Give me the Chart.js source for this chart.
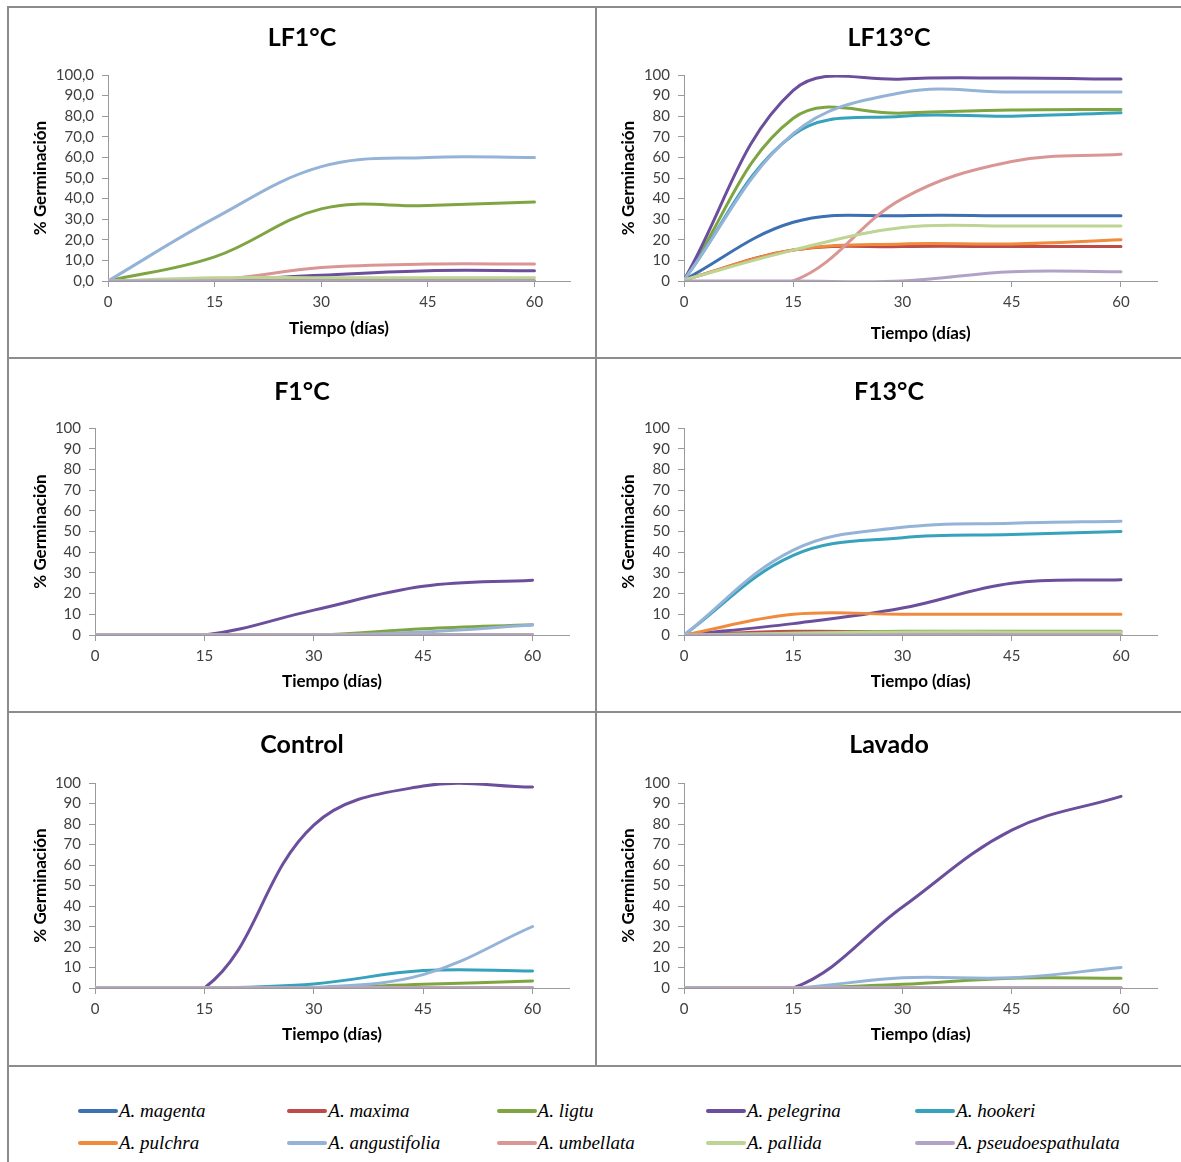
<!DOCTYPE html>
<html><head><meta charset="utf-8">
<script src="https://cdn.jsdelivr.net/npm/chart.js@4.4.1/dist/chart.umd.min.js"></script>
<style>
html,body{margin:0;padding:0;background:#fff;}
body{width:1181px;height:1162px;position:relative;overflow:hidden;}
.ln{position:absolute;background:#8c8c8c;}
canvas{position:absolute;}
.leg{position:absolute;height:24px;font-family:"Liberation Serif","Times New Roman",serif;font-style:italic;font-size:19px;color:#000;white-space:nowrap;display:flex;align-items:center;}
.leg .sw{display:inline-block;width:40px;height:4px;border-radius:2px;margin-right:1px;}
</style></head><body>
<div class="ln" style="left:7px;top:6px;width:2px;height:1156px"></div>
<div class="ln" style="left:595px;top:6px;width:2px;height:1061px"></div>
<div class="ln" style="left:7px;top:6px;width:1174px;height:2px"></div>
<div class="ln" style="left:7px;top:357px;width:1174px;height:2px"></div>
<div class="ln" style="left:7px;top:711px;width:1174px;height:2px"></div>
<div class="ln" style="left:7px;top:1065px;width:1174px;height:2px"></div>
<canvas id="c1" width="586" height="349" style="left:9px;top:8px"></canvas>
<canvas id="c2" width="584" height="349" style="left:597px;top:8px"></canvas>
<canvas id="c3" width="586" height="352" style="left:9px;top:359px"></canvas>
<canvas id="c4" width="584" height="352" style="left:597px;top:359px"></canvas>
<canvas id="c5" width="586" height="352" style="left:9px;top:713px"></canvas>
<canvas id="c6" width="584" height="352" style="left:597px;top:713px"></canvas>
<div id="legend"></div>
<script>
// ---- data ----
const days = [0, 15, 30, 45, 60];
const species = ['A. magenta','A. maxima','A. ligtu','A. pelegrina','A. hookeri','A. pulchra','A. angustifolia','A. umbellata','A. pallida','A. pseudoespathulata'];
const colors = ['#3d6fb3','#be4b48','#7fa543','#6b4f9c','#36a2bc','#f08a3c','#95b3d7','#d99694','#bcd494','#b3a2c7'];

// rows follow species order
const LF1 = [
  [0,0,0,0,0],
  [0,0,0,0,0],
  [0,11.7,35,36.6,38.3],
  [0,0.5,2.8,5,5],
  [0,0,0,0,0],
  [0,0,0,0,0],
  [0,30.5,55.5,60,60],
  [0,0.5,6.5,8.2,8.2],
  [0,1.6,1.6,1.6,1.6],
  [0,0,0,0,0]
];
const LF13 = [
  [0.5,28.5,31.7,31.7,31.7],
  [0.5,15,16.7,16.7,16.7],
  [0.5,79,81.5,83,83.3],
  [0.5,92.5,98,98.5,98],
  [0.5,71,80,80,81.7],
  [0.5,15,18,18,20],
  [0.5,71.5,91.5,91.7,91.7],
  [0,0,40,58,61.5],
  [0.5,15,26,26.7,26.7],
  [0,0,0,4.5,4.5]
];
const F1 = [
  [0,0,0,0,0],
  [0,0,0,0,0],
  [0,0,0,3,5],
  [0,0,12,23.5,26.5],
  [0,0,0,0,0],
  [0,0,0,0,0],
  [0,0,0,1.5,4.8],
  [0,0,0,0,0],
  [0,0,0,0,0],
  [0,0,0,0,0]
];
const F13 = [
  [0,0,0,0,0],
  [0,1.8,1.5,1.5,1.5],
  [0,1,1.8,1.8,1.8],
  [0,5.5,13,25,26.7],
  [0,38.5,47,48.5,50],
  [0,10,10,10,10],
  [0,41,52,54,55],
  [0,0,0,0,0],
  [0,0.8,1.5,1.5,1.5],
  [0,0,0,0,0]
];
const Control = [
  [0,0,0,0,0],
  [0,0,0,0,0],
  [0,0,0,1.8,3.4],
  [0,0,79.5,98.5,98],
  [0,0,2,8.5,8.3],
  [0,0,0,0,0],
  [0,0,0.3,6.5,30],
  [0,0,0,0,0],
  [0,0,0,0,0],
  [0,0,0,0,0]
];
const Lavado = [
  [0,0,0,0,0],
  [0,0,0,0,0],
  [0,0,1.8,4.8,4.8],
  [0,0,39.5,77,93.5],
  [0,0,0,0,0],
  [0,0,0,0,0],
  [0,0,5,5,10],
  [0,0,0,0,0],
  [0,0,0,0,0],
  [0,0,0,0,0]
];

// ---- layout per panel ----
const panels = [
  {id:'c1', title:'LF1°C',  values:LF1,     dec:true,  yW:99, padR:25,   tPt:14.5, tPb:22.5, xH:76, xPb:17.8},
  {id:'c2', title:'LF13°C', values:LF13,    dec:false, yW:87, padR:23.6, tPt:14.5, tPb:22.5, xH:76, xPb:12.8},
  {id:'c3', title:'F1°C',   values:F1,      dec:false, yW:86, padR:26,   tPt:17.7, tPb:21.3, xH:76, xPb:18.8},
  {id:'c4', title:'F13°C',  values:F13,     dec:false, yW:87, padR:23.6, tPt:17.7, tPb:21.3, xH:76, xPb:18.8},
  {id:'c5', title:'Control',values:Control, dec:false, yW:86, padR:26,   tPt:17,   tPb:23,   xH:77, xPb:19.8},
  {id:'c6', title:'Lavado', values:Lavado,  dec:false, yW:87, padR:23.6, tPt:17,   tPb:23,   xH:77, xPb:19.8}
];

const axisColor = '#9a9a9a';
const tickFont = {family:'Lato', size:15};
const axTitleFont = {family:'Lato', size:17, weight:'bold'};

panels.forEach(p => {
  const datasets = species.map((name, i) => ({
    label: name,
    data: days.map((d, j) => ({x: d, y: p.values[i][j]})),
    borderColor: colors[i],
    backgroundColor: colors[i],
    borderWidth: 3,
    pointRadius: 0,
    pointHoverRadius: 0,
    tension: 0.38,
    fill: false,
    order: species.length - i
  }));
  new Chart(document.getElementById(p.id), {
    type: 'line',
    data: {datasets},
    options: {
      responsive: false,
      animation: false,
      devicePixelRatio: 1,
      events: [],
      layout: {padding: 0},
      elements: {line: {capBezierPoints: false, borderCapStyle: 'round', borderJoinStyle: 'round'}},
      plugins: {
        legend: {display: false},
        tooltip: {enabled: false},
        title: {display: true, text: p.title, color: '#000',
          font: {family: 'Lato', size: 25, weight: 'bold'},
          padding: {top: p.tPt, bottom: p.tPb}}
      },
      scales: {
        x: {
          type: 'linear', min: 0, max: 65,
          afterFit: s => { s.height = p.xH; },
          ticks: {stepSize: 15, includeBounds: false, padding: 6, color: '#404040', font: tickFont, maxRotation: 0, autoSkip: false},
          grid: {drawOnChartArea: false, drawTicks: true, tickLength: 6, color: axisColor},
          border: {display: true, color: axisColor, width: 1},
          title: {display: true, text: 'Tiempo (días)', color: '#000', font: axTitleFont, padding: {top: 0, bottom: p.xPb}}
        },
        y: {
          min: 0, max: 100,
          afterFit: s => { s.width = p.yW; },
          ticks: {stepSize: 10, padding: 8, color: '#404040', font: tickFont, autoSkip: false,
            callback: v => p.dec ? v.toFixed(1).replace('.', ',') : String(v)},
          grid: {drawOnChartArea: false, drawTicks: true, tickLength: 6, color: axisColor},
          border: {display: true, color: axisColor, width: 1},
          title: {display: true, text: '% Germinación', color: '#000', font: axTitleFont, padding: {top: 21.4, bottom: 0}}
        },
        // empty spacer on the right so the title stays centred on the whole panel
        yr: {
          position: 'right', min: 0, max: 100,
          afterFit: s => { s.width = p.padR; },
          ticks: {display: false},
          grid: {display: false, drawTicks: false},
          border: {display: false},
          title: {display: false}
        }
      }
    }
  });
});

// ---- legend ----
const leg = document.getElementById('legend');
species.forEach((name, i) => {
  const col = i % 5, row = Math.floor(i / 5);
  const d = document.createElement('div');
  d.className = 'leg';
  d.style.left = (78 + col * 209.3) + 'px';
  d.style.top = (1099 + row * 32) + 'px';
  d.innerHTML = '<span class="sw" style="background:' + colors[i] + '"></span>' + name;
  leg.appendChild(d);
});
</script>
</body></html>
